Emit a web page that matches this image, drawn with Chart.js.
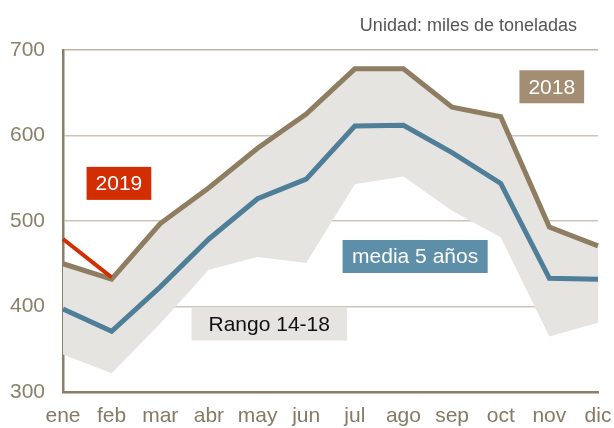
<!DOCTYPE html>
<html>
<head>
<meta charset="utf-8">
<script src="https://cdn.jsdelivr.net/npm/chart.js@4/dist/chart.umd.min.js"></script>
<style>
  html, body { margin: 0; padding: 0; background: #fff; }
  #wrap { width: 614px; height: 428px; }
</style>
</head>
<body>
<div id="wrap"><canvas id="c" width="614" height="428"></canvas></div>
<script>
// months + series (miles de toneladas)
const meses = ["ene", "feb", "mar", "abr", "may", "jun", "jul", "ago", "sep", "oct", "nov", "dic"];
const y2019 = [479, 434, null, null, null, null, null, null, null, null, null, null];
const y2018 = [450, 432, 497, 539, 585, 625, 678, 678, 633, 622, 493, 471];
const media5 = [397, 371, 423, 479, 526, 549, 611, 612, 580, 544, 433, 432];
const rangoMax = [450, 432, 497, 539, 585, 625, 678, 678, 633, 622, 493, 471];
const rangoMin = [344, 322, 380, 443, 458, 451, 543, 552, 512, 481, 365, 381];
const yTicks = [300, 400, 500, 600, 700];

// boxed series labels, placed in data space (month index, value)
const etiquetas = [
  { text: "2019", at: [1.15, 544], bg: "#d22e02", fg: "#fff", padX: 9 },
  { text: "2018", at: [10.05, 657], bg: "#a38e74", fg: "#fff", padX: 9 },
  { text: "media 5 años", at: [7.24, 458.5], bg: "#5e8fa9", fg: "#fff", padX: 9.5 },
  { text: "Rango 14-18", at: [4.24, 379.5], bg: "#e6e4e0", fg: "#111", padX: 17 },
];
const nota = "Unidad: miles de toneladas";

const FONT = "'Liberation Sans', Arial, sans-serif";
const AXIS = "#8b7d66";

const labelsPlugin = {
  id: "etiquetas",
  afterDatasetsDraw(chart) {
    const { ctx, scales: { x, y }, chartArea } = chart;
    ctx.save();
    ctx.font = "21px " + FONT;
    ctx.textAlign = "center";
    ctx.textBaseline = "middle";
    etiquetas.forEach(l => {
      const cx = x.getPixelForValue(l.at[0]);
      const cy = y.getPixelForValue(l.at[1]);
      const w = ctx.measureText(l.text).width + l.padX * 2;
      const h = 33;
      ctx.fillStyle = l.bg;
      ctx.fillRect(cx - w / 2, cy - h / 2, w, h);
      ctx.fillStyle = l.fg;
      ctx.fillText(l.text, cx, cy + 1);
    });
    // unit note above the plot
    ctx.font = "18px " + FONT;
    ctx.textAlign = "right";
    ctx.textBaseline = "alphabetic";
    ctx.fillStyle = "#555";
    ctx.fillText(nota, chartArea.right - 21, 31);
    ctx.restore();
  },
};

new Chart(document.getElementById("c"), {
  type: "line",
  data: {
    labels: meses,
    datasets: [
      { label: "2019", data: y2019, borderColor: "#d22e02", borderWidth: 4, fill: false },
      { label: "2018", data: y2018, borderColor: "#8f7d62", borderWidth: 5, fill: false },
      { label: "media 5 años", data: media5, borderColor: "#4f7e98", borderWidth: 5, fill: false },
      { label: "max", data: rangoMax, borderWidth: 0, borderColor: "rgba(0,0,0,0)",
        backgroundColor: "#e6e4e0", fill: "+1" },
      { label: "min", data: rangoMin, borderWidth: 0, borderColor: "rgba(0,0,0,0)", fill: false },
    ],
  },
  options: {
    responsive: false,
    animation: false,
    layout: { padding: { top: 50, right: 16, bottom: 0, left: 0 } },
    elements: {
      point: { radius: 0, hoverRadius: 0 },
      line: { tension: 0, borderJoinStyle: "miter", borderCapStyle: "butt" },
    },
    plugins: { legend: { display: false }, tooltip: { enabled: false } },
    scales: {
      x: {
        offset: false,
        grid: { display: false },
        border: { display: true, color: AXIS, width: 2.5 },
        ticks: { color: "#857a63", font: { family: FONT, size: 21 }, padding: 4,
                 maxRotation: 0, autoSkip: false },
        afterFit(s) { s.height = 36; s.paddingLeft = 0; s.paddingRight = 0; },
      },
      y: {
        min: 300, max: 700,
        afterBuildTicks(s) { s.ticks = yTicks.map(v => ({ value: v })); },
        grid: {
          drawTicks: false,
          lineWidth: 1.5,
          color: c => c.tick.value === 300 ? "rgba(0,0,0,0)" : (c.tick.value === 700 ? "#bcb4a5" : "#cdc6b8"),
        },
        border: { display: true, color: AXIS, width: 2.5 },
        ticks: { color: "#8b806a", font: { family: FONT, size: 21 }, padding: 18 },
        afterFit(s) { s.width = 63; },
      },
    },
  },
  plugins: [labelsPlugin],
});
</script>
</body>
</html>
